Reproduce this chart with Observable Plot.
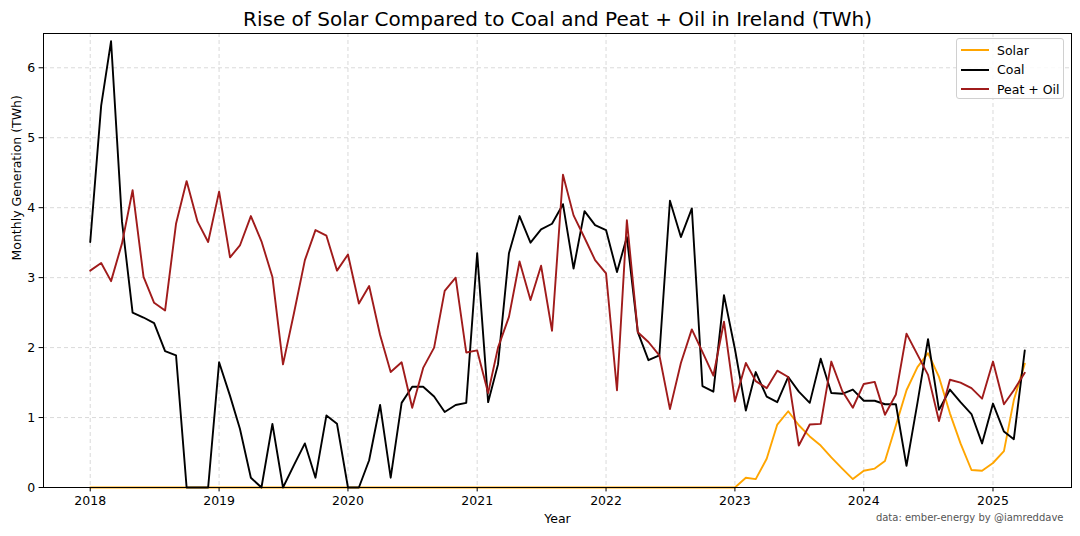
<!DOCTYPE html>
<html>
<head>
<meta charset="utf-8">
<script src="https://cdn.jsdelivr.net/npm/d3@7"></script>
<script src="https://cdn.jsdelivr.net/npm/@observablehq/plot@0.6"></script>
<style>
  html, body { margin: 0; padding: 0; background: #fff; }
  #chart { position: relative; width: 1080px; height: 536px; font-family: "DejaVu Sans", sans-serif; }
  #legend {
    position: absolute; left: 956px; top: 38px; width: 108px; height: 61px;
    border: 1px solid #d0d0d0; border-radius: 3px; background: rgba(255,255,255,0.85);
    box-sizing: border-box; font-size: 12.5px; color: #000;
  }
  #legend .row { position: absolute; left: 0; height: 20px; display: flex; align-items: center; white-space: nowrap; }
  #legend .swatch { width: 28px; height: 2px; margin-left: 4px; margin-right: 8px; }
</style>
</head>
<body>
<div id="chart"><div id="legend"></div></div>
<script>
  /* ---- Data (TWh per month, Jan 2018 – Apr 2025) ---- */
  const firstMonth = '2018-01-01';
  const seriesNames = ['Solar', 'Coal', 'Peat + Oil'];
  const seriesColors = ['#ffa500', '#000000', '#a01b1b'];
  const yearTicks = [2018, 2019, 2020, 2021, 2022, 2023, 2024, 2025];
  const valueTicks = [0, 1, 2, 3, 4, 5, 6];

  const solar = [
    0, 0, 0, 0, 0, 0, 0, 0, 0, 0, 0, 0,
    0, 0, 0, 0, 0, 0, 0, 0, 0, 0, 0, 0,
    0, 0, 0, 0, 0, 0, 0, 0, 0, 0, 0, 0,
    0, 0, 0, 0, 0, 0, 0, 0, 0, 0, 0, 0,
    0, 0, 0, 0, 0, 0, 0, 0, 0, 0, 0, 0,
    0, 0.14, 0.12, 0.41, 0.90, 1.09, 0.89, 0.73, 0.60, 0.43, 0.27, 0.12,
    0.24, 0.27, 0.38, 0.89, 1.39, 1.72, 1.92, 1.58, 1.06, 0.63, 0.25, 0.24,
    0.35, 0.52, 1.25, 1.77
  ];

  const coal = [
    3.51, 5.46, 6.38, 3.80, 2.50, 2.43, 2.35, 1.95, 1.89, 0, 0, 0,
    1.79, 1.31, 0.84, 0.14, 0, 0.91, 0, 0.32, 0.63, 0.14, 1.03, 0.91,
    0, 0, 0.39, 1.18, 0.14, 1.21, 1.44, 1.44, 1.30, 1.08, 1.18, 1.21,
    3.35, 1.22, 1.76, 3.35, 3.88, 3.50, 3.69, 3.77, 4.05, 3.13, 3.95, 3.75,
    3.68, 3.08, 3.58, 2.22, 1.82, 1.89, 4.10, 3.58, 3.99, 1.45, 1.37, 2.75,
    1.98, 1.10, 1.65, 1.30, 1.22, 1.58, 1.37, 1.21, 1.84, 1.35, 1.34, 1.40,
    1.24, 1.24, 1.19, 1.19, 0.31, 1.21, 2.12, 1.11, 1.40, 1.22, 1.05, 0.63,
    1.20, 0.80, 0.69, 1.96
  ];

  const peatOil = [
    3.10, 3.21, 2.95, 3.49, 4.25, 3.01, 2.64, 2.53, 3.77, 4.38, 3.80, 3.51,
    4.23, 3.29, 3.46, 3.88, 3.52, 3.01, 1.76, 2.49, 3.25, 3.68, 3.60, 3.10,
    3.33, 2.63, 2.88, 2.18, 1.65, 1.79, 1.14, 1.71, 2.00, 2.81, 3.00, 1.93,
    1.96, 1.35, 2.00, 2.44, 3.23, 2.68, 3.17, 2.24, 4.47, 3.89, 3.57, 3.25,
    3.06, 1.39, 3.82, 2.22, 2.08, 1.89, 1.12, 1.78, 2.26, 1.94, 1.60, 2.37,
    1.23, 1.78, 1.52, 1.42, 1.67, 1.58, 0.60, 0.90, 0.91, 1.80, 1.38, 1.14,
    1.48, 1.51, 1.04, 1.33, 2.20, 1.90, 1.61, 0.95, 1.54, 1.50, 1.42, 1.27,
    1.80, 1.19, 1.39, 1.64
  ];

  (function () {
    'use strict';

    const start = new Date(firstMonth);
    const monthDate = i => d3.utcMonth.offset(start, i);
    const rows = [solar, coal, peatOil].flatMap((values, k) =>
      values.map((v, i) => ({ series: seriesNames[k], date: monthDate(i), value: v }))
    );
    const yearDates = yearTicks.map(y => new Date(Date.UTC(y, 0, 1)));

    // matplotlib-like 5% padding around the date range
    const last = monthDate(solar.length - 1);
    const pad = (last - start) * 0.05;
    const xDomain = [new Date(+start - pad), new Date(+last + pad)];

    const font = "'DejaVu Sans', sans-serif";
    const grid = { stroke: '#b0b0b0', strokeOpacity: 0.6, strokeDasharray: '4,3', strokeWidth: 0.8 };

    const chart = Plot.plot({
      width: 1080,
      height: 536,
      marginTop: 33,
      marginRight: 9,
      marginBottom: 49,
      marginLeft: 43,
      style: { background: '#fff', color: '#000', fontFamily: font, fontSize: '12.5px' },
      x: { type: 'utc', domain: xDomain },
      y: { domain: [0, 6.49] },
      color: { domain: seriesNames, range: seriesColors },
      marks: [
        Plot.gridX(yearDates, grid),
        Plot.gridY(valueTicks, grid),
        Plot.lineY(rows, { x: 'date', y: 'value', stroke: 'series', strokeWidth: 1.9 }),
        Plot.frame({ stroke: '#000', strokeWidth: 1 }),
        Plot.axisX(yearDates, { tickFormat: d3.utcFormat('%Y'), tickSize: 4.4, tickPadding: 4, label: null, fontSize: 12.5 }),
        Plot.axisY(valueTicks, { tickFormat: d3.format('d'), tickSize: 4.4, tickPadding: 4, label: null, fontSize: 12.5 }),
        Plot.text(['Rise of Solar Compared to Coal and Peat + Oil in Ireland (TWh)'], {
          frameAnchor: 'top', dy: -22, fontSize: 20, fill: '#000'
        }),
        Plot.text(['Year'], { frameAnchor: 'bottom', dy: 35, fontSize: 12.5, fill: '#000' }),
        Plot.text(['Monthly Generation (TWh)'], {
          frameAnchor: 'left', dx: -27, rotate: -90, fontSize: 12.5, fill: '#000'
        }),
        Plot.text(['data: ember-energy by @iamreddave'], {
          frameAnchor: 'bottom-right', dx: -8, dy: 33, textAnchor: 'end', fontSize: 10, fill: '#555'
        })
      ]
    });

    document.getElementById('chart').prepend(chart);

    /* ---- Legend ---- */
    const legend = document.getElementById('legend');
    seriesNames.forEach((name, i) => {
      const row = document.createElement('div');
      row.className = 'row';
      row.style.top = (1 + i * 19.7) + 'px';
      row.innerHTML = `<span class="swatch" style="background:${seriesColors[i]}"></span><span>${name}</span>`;
      legend.appendChild(row);
    });
  })();
</script>
</body>
</html>
